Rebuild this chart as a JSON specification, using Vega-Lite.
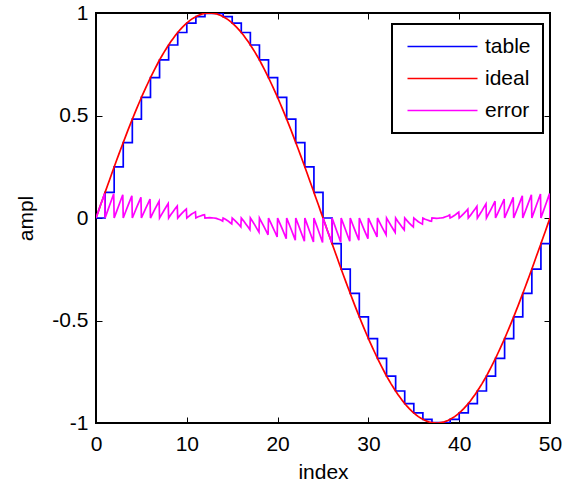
{
  "$schema": "https://vega.github.io/schema/vega-lite/v6.json",
  "width": 454,
  "height": 410,
  "autosize": "none",
  "padding": {"left": 96, "top": 13, "right": 15, "bottom": 63},
  "background": "white",
  "config": {
    "font": "Liberation Sans",
    "view": {"stroke": "black", "strokeWidth": 2},
    "axis": {
      "grid": false,
      "domain": false,
      "tickColor": "black",
      "tickWidth": 1,
      "tickSize": -6,
      "labelColor": "black",
      "labelFontSize": 21,
      "labelFont": "Liberation Sans",
      "labelFlush": false,
      "labelOverlap": false,
      "titleFont": "Liberation Sans",
      "titleFontSize": 21,
      "titleFontWeight": "normal",
      "titleColor": "black",
      "labelExpr": "datum.value + ''"
    },
    "legend": {
      "orient": "none",
      "legendX": 296,
      "legendY": 11,
      "direction": "vertical",
      "fillColor": "white",
      "strokeColor": "black",
      "strokeWidth": 2,
      "padding": 12,
      "symbolType": "M-1.4,0H12.6",
      "symbolSize": 100,
      "symbolStrokeWidth": 1.6,
      "labelFontSize": 21,
      "labelFont": "Liberation Sans",
      "labelColor": "black",
      "labelOffset": 60,
      "rowPadding": 10
    }
  },
  "datasets": {
    "tab": [
      {"x":0,"t":0},{"x":1,"t":0.125},{"x":2,"t":0.249},{"x":3,"t":0.368},{"x":4,"t":0.482},{"x":5,"t":0.588},{"x":6,"t":0.685},{"x":7,"t":0.771},{"x":8,"t":0.844},{"x":9,"t":0.905},{"x":10,"t":0.951},{"x":11,"t":0.982},{"x":12,"t":0.998},{"x":13,"t":0.998},{"x":14,"t":0.982},{"x":15,"t":0.951},{"x":16,"t":0.905},{"x":17,"t":0.844},{"x":18,"t":0.771},{"x":19,"t":0.685},{"x":20,"t":0.588},{"x":21,"t":0.482},{"x":22,"t":0.368},{"x":23,"t":0.249},{"x":24,"t":0.125},{"x":25,"t":0},{"x":26,"t":-0.125},{"x":27,"t":-0.249},{"x":28,"t":-0.368},{"x":29,"t":-0.482},{"x":30,"t":-0.588},{"x":31,"t":-0.685},{"x":32,"t":-0.771},{"x":33,"t":-0.844},{"x":34,"t":-0.905},{"x":35,"t":-0.951},{"x":36,"t":-0.982},{"x":37,"t":-0.998},{"x":38,"t":-0.998},{"x":39,"t":-0.982},{"x":40,"t":-0.951},{"x":41,"t":-0.905},{"x":42,"t":-0.844},{"x":43,"t":-0.771},{"x":44,"t":-0.685},{"x":45,"t":-0.588},{"x":46,"t":-0.482},{"x":47,"t":-0.368},{"x":48,"t":-0.249},{"x":49,"t":-0.125},{"x":50,"t":0}
    ],
    "sig": [
      {"x":0,"ideal":0,"error":0},{"x":0.25,"ideal":0.031,"error":0.031},{"x":0.5,"ideal":0.063,"error":0.063},{"x":0.75,"ideal":0.094,"error":0.094},{"x":0.95,"ideal":0.119,"error":0.119},
      {"x":1,"ideal":0.125,"error":0},{"x":1.25,"ideal":0.156,"error":0.031},{"x":1.5,"ideal":0.187,"error":0.062},{"x":1.75,"ideal":0.218,"error":0.093},{"x":1.95,"ideal":0.243,"error":0.118},
      {"x":2,"ideal":0.249,"error":0},{"x":2.25,"ideal":0.279,"error":0.030},{"x":2.5,"ideal":0.309,"error":0.060},{"x":2.75,"ideal":0.339,"error":0.090},{"x":2.95,"ideal":0.362,"error":0.113},
      {"x":3,"ideal":0.368,"error":0},{"x":3.25,"ideal":0.397,"error":0.029},{"x":3.5,"ideal":0.426,"error":0.058},{"x":3.75,"ideal":0.454,"error":0.086},{"x":3.95,"ideal":0.476,"error":0.108},
      {"x":4,"ideal":0.482,"error":0},{"x":4.25,"ideal":0.509,"error":0.027},{"x":4.5,"ideal":0.536,"error":0.054},{"x":4.75,"ideal":0.562,"error":0.080},{"x":4.95,"ideal":0.583,"error":0.101},
      {"x":5,"ideal":0.588,"error":0},{"x":5.25,"ideal":0.613,"error":0.025},{"x":5.5,"ideal":0.637,"error":0.049},{"x":5.75,"ideal":0.661,"error":0.073},{"x":5.95,"ideal":0.680,"error":0.092},
      {"x":6,"ideal":0.685,"error":0},{"x":6.25,"ideal":0.707,"error":0.022},{"x":6.5,"ideal":0.729,"error":0.044},{"x":6.75,"ideal":0.750,"error":0.065},{"x":6.95,"ideal":0.767,"error":0.082},
      {"x":7,"ideal":0.771,"error":0},{"x":7.25,"ideal":0.790,"error":0.019},{"x":7.5,"ideal":0.809,"error":0.038},{"x":7.75,"ideal":0.827,"error":0.056},{"x":7.95,"ideal":0.841,"error":0.070},
      {"x":8,"ideal":0.844,"error":0},{"x":8.25,"ideal":0.861,"error":0.017},{"x":8.5,"ideal":0.876,"error":0.032},{"x":8.75,"ideal":0.891,"error":0.047},{"x":8.95,"ideal":0.902,"error":0.058},
      {"x":9,"ideal":0.905,"error":0},{"x":9.25,"ideal":0.918,"error":0.013},{"x":9.5,"ideal":0.930,"error":0.025},{"x":9.75,"ideal":0.941,"error":0.036},{"x":9.95,"ideal":0.949,"error":0.044},
      {"x":10,"ideal":0.951,"error":0},{"x":10.25,"ideal":0.960,"error":0.009},{"x":10.5,"ideal":0.969,"error":0.018},{"x":10.75,"ideal":0.976,"error":0.025},{"x":10.95,"ideal":0.981,"error":0.030},
      {"x":11,"ideal":0.982,"error":0},{"x":11.25,"ideal":0.988,"error":0.006},{"x":11.5,"ideal":0.992,"error":0.010},{"x":11.75,"ideal":0.996,"error":0.014},{"x":11.95,"ideal":0.998,"error":0.016},
      {"x":12,"ideal":0.998,"error":0},{"x":12.25,"ideal":0.999,"error":0.001},{"x":12.5,"ideal":1,"error":0.002},{"x":12.75,"ideal":0.999,"error":0.001},{"x":12.95,"ideal":0.998,"error":0},
      {"x":13,"ideal":0.998,"error":0},{"x":13.25,"ideal":0.996,"error":-0.002},{"x":13.5,"ideal":0.992,"error":-0.006},{"x":13.75,"ideal":0.988,"error":-0.010},{"x":13.95,"ideal":0.983,"error":-0.015},
      {"x":14,"ideal":0.982,"error":0},{"x":14.25,"ideal":0.976,"error":-0.006},{"x":14.5,"ideal":0.969,"error":-0.013},{"x":14.75,"ideal":0.960,"error":-0.022},{"x":14.95,"ideal":0.953,"error":-0.029},
      {"x":15,"ideal":0.951,"error":0},{"x":15.25,"ideal":0.941,"error":-0.010},{"x":15.5,"ideal":0.930,"error":-0.021},{"x":15.75,"ideal":0.918,"error":-0.033},{"x":15.95,"ideal":0.908,"error":-0.043},
      {"x":16,"ideal":0.905,"error":0},{"x":16.25,"ideal":0.891,"error":-0.014},{"x":16.5,"ideal":0.876,"error":-0.029},{"x":16.75,"ideal":0.861,"error":-0.044},{"x":16.95,"ideal":0.848,"error":-0.057},
      {"x":17,"ideal":0.844,"error":0},{"x":17.25,"ideal":0.827,"error":-0.017},{"x":17.5,"ideal":0.809,"error":-0.035},{"x":17.75,"ideal":0.790,"error":-0.054},{"x":17.95,"ideal":0.775,"error":-0.069},
      {"x":18,"ideal":0.771,"error":0},{"x":18.25,"ideal":0.750,"error":-0.021},{"x":18.5,"ideal":0.729,"error":-0.042},{"x":18.75,"ideal":0.707,"error":-0.064},{"x":18.95,"ideal":0.689,"error":-0.082},
      {"x":19,"ideal":0.685,"error":0},{"x":19.25,"ideal":0.661,"error":-0.024},{"x":19.5,"ideal":0.637,"error":-0.048},{"x":19.75,"ideal":0.613,"error":-0.072},{"x":19.95,"ideal":0.593,"error":-0.092},
      {"x":20,"ideal":0.588,"error":0},{"x":20.25,"ideal":0.562,"error":-0.026},{"x":20.5,"ideal":0.536,"error":-0.052},{"x":20.75,"ideal":0.509,"error":-0.079},{"x":20.95,"ideal":0.487,"error":-0.101},
      {"x":21,"ideal":0.482,"error":0},{"x":21.25,"ideal":0.454,"error":-0.028},{"x":21.5,"ideal":0.426,"error":-0.056},{"x":21.75,"ideal":0.397,"error":-0.085},{"x":21.95,"ideal":0.374,"error":-0.108},
      {"x":22,"ideal":0.368,"error":0},{"x":22.25,"ideal":0.339,"error":-0.029},{"x":22.5,"ideal":0.309,"error":-0.059},{"x":22.75,"ideal":0.279,"error":-0.089},{"x":22.95,"ideal":0.255,"error":-0.113},
      {"x":23,"ideal":0.249,"error":0},{"x":23.25,"ideal":0.218,"error":-0.031},{"x":23.5,"ideal":0.187,"error":-0.062},{"x":23.75,"ideal":0.156,"error":-0.093},{"x":23.95,"ideal":0.132,"error":-0.117},
      {"x":24,"ideal":0.125,"error":0},{"x":24.25,"ideal":0.094,"error":-0.031},{"x":24.5,"ideal":0.063,"error":-0.062},{"x":24.75,"ideal":0.031,"error":-0.094},{"x":24.95,"ideal":0.006,"error":-0.119},
      {"x":25,"ideal":0,"error":0},{"x":25.25,"ideal":-0.031,"error":-0.031},{"x":25.5,"ideal":-0.063,"error":-0.063},{"x":25.75,"ideal":-0.094,"error":-0.094},{"x":25.95,"ideal":-0.119,"error":-0.119},
      {"x":26,"ideal":-0.125,"error":0},{"x":26.25,"ideal":-0.156,"error":-0.031},{"x":26.5,"ideal":-0.187,"error":-0.062},{"x":26.75,"ideal":-0.218,"error":-0.093},{"x":26.95,"ideal":-0.243,"error":-0.118},
      {"x":27,"ideal":-0.249,"error":0},{"x":27.25,"ideal":-0.279,"error":-0.030},{"x":27.5,"ideal":-0.309,"error":-0.060},{"x":27.75,"ideal":-0.339,"error":-0.090},{"x":27.95,"ideal":-0.362,"error":-0.113},
      {"x":28,"ideal":-0.368,"error":0},{"x":28.25,"ideal":-0.397,"error":-0.029},{"x":28.5,"ideal":-0.426,"error":-0.058},{"x":28.75,"ideal":-0.454,"error":-0.086},{"x":28.95,"ideal":-0.476,"error":-0.108},
      {"x":29,"ideal":-0.482,"error":0},{"x":29.25,"ideal":-0.509,"error":-0.027},{"x":29.5,"ideal":-0.536,"error":-0.054},{"x":29.75,"ideal":-0.562,"error":-0.080},{"x":29.95,"ideal":-0.583,"error":-0.101},
      {"x":30,"ideal":-0.588,"error":0},{"x":30.25,"ideal":-0.613,"error":-0.025},{"x":30.5,"ideal":-0.637,"error":-0.049},{"x":30.75,"ideal":-0.661,"error":-0.073},{"x":30.95,"ideal":-0.680,"error":-0.092},
      {"x":31,"ideal":-0.685,"error":0},{"x":31.25,"ideal":-0.707,"error":-0.022},{"x":31.5,"ideal":-0.729,"error":-0.044},{"x":31.75,"ideal":-0.750,"error":-0.065},{"x":31.95,"ideal":-0.767,"error":-0.082},
      {"x":32,"ideal":-0.771,"error":0},{"x":32.25,"ideal":-0.790,"error":-0.019},{"x":32.5,"ideal":-0.809,"error":-0.038},{"x":32.75,"ideal":-0.827,"error":-0.056},{"x":32.95,"ideal":-0.841,"error":-0.070},
      {"x":33,"ideal":-0.844,"error":0},{"x":33.25,"ideal":-0.861,"error":-0.017},{"x":33.5,"ideal":-0.876,"error":-0.032},{"x":33.75,"ideal":-0.891,"error":-0.047},{"x":33.95,"ideal":-0.902,"error":-0.058},
      {"x":34,"ideal":-0.905,"error":0},{"x":34.25,"ideal":-0.918,"error":-0.013},{"x":34.5,"ideal":-0.930,"error":-0.025},{"x":34.75,"ideal":-0.941,"error":-0.036},{"x":34.95,"ideal":-0.949,"error":-0.044},
      {"x":35,"ideal":-0.951,"error":0},{"x":35.25,"ideal":-0.960,"error":-0.009},{"x":35.5,"ideal":-0.969,"error":-0.018},{"x":35.75,"ideal":-0.976,"error":-0.025},{"x":35.95,"ideal":-0.981,"error":-0.030},
      {"x":36,"ideal":-0.982,"error":0},{"x":36.25,"ideal":-0.988,"error":-0.006},{"x":36.5,"ideal":-0.992,"error":-0.010},{"x":36.75,"ideal":-0.996,"error":-0.014},{"x":36.95,"ideal":-0.998,"error":-0.016},
      {"x":37,"ideal":-0.998,"error":0},{"x":37.25,"ideal":-0.999,"error":-0.001},{"x":37.5,"ideal":-1,"error":-0.002},{"x":37.75,"ideal":-0.999,"error":-0.001},{"x":37.95,"ideal":-0.998,"error":0},
      {"x":38,"ideal":-0.998,"error":0},{"x":38.25,"ideal":-0.996,"error":0.002},{"x":38.5,"ideal":-0.992,"error":0.006},{"x":38.75,"ideal":-0.988,"error":0.010},{"x":38.95,"ideal":-0.983,"error":0.015},
      {"x":39,"ideal":-0.982,"error":0},{"x":39.25,"ideal":-0.976,"error":0.006},{"x":39.5,"ideal":-0.969,"error":0.013},{"x":39.75,"ideal":-0.960,"error":0.022},{"x":39.95,"ideal":-0.953,"error":0.029},
      {"x":40,"ideal":-0.951,"error":0},{"x":40.25,"ideal":-0.941,"error":0.010},{"x":40.5,"ideal":-0.930,"error":0.021},{"x":40.75,"ideal":-0.918,"error":0.033},{"x":40.95,"ideal":-0.908,"error":0.043},
      {"x":41,"ideal":-0.905,"error":0},{"x":41.25,"ideal":-0.891,"error":0.014},{"x":41.5,"ideal":-0.876,"error":0.029},{"x":41.75,"ideal":-0.861,"error":0.044},{"x":41.95,"ideal":-0.848,"error":0.057},
      {"x":42,"ideal":-0.844,"error":0},{"x":42.25,"ideal":-0.827,"error":0.017},{"x":42.5,"ideal":-0.809,"error":0.035},{"x":42.75,"ideal":-0.790,"error":0.054},{"x":42.95,"ideal":-0.775,"error":0.069},
      {"x":43,"ideal":-0.771,"error":0},{"x":43.25,"ideal":-0.750,"error":0.021},{"x":43.5,"ideal":-0.729,"error":0.042},{"x":43.75,"ideal":-0.707,"error":0.064},{"x":43.95,"ideal":-0.689,"error":0.082},
      {"x":44,"ideal":-0.685,"error":0},{"x":44.25,"ideal":-0.661,"error":0.024},{"x":44.5,"ideal":-0.637,"error":0.048},{"x":44.75,"ideal":-0.613,"error":0.072},{"x":44.95,"ideal":-0.593,"error":0.092},
      {"x":45,"ideal":-0.588,"error":0},{"x":45.25,"ideal":-0.562,"error":0.026},{"x":45.5,"ideal":-0.536,"error":0.052},{"x":45.75,"ideal":-0.509,"error":0.079},{"x":45.95,"ideal":-0.487,"error":0.101},
      {"x":46,"ideal":-0.482,"error":0},{"x":46.25,"ideal":-0.454,"error":0.028},{"x":46.5,"ideal":-0.426,"error":0.056},{"x":46.75,"ideal":-0.397,"error":0.085},{"x":46.95,"ideal":-0.374,"error":0.108},
      {"x":47,"ideal":-0.368,"error":0},{"x":47.25,"ideal":-0.339,"error":0.029},{"x":47.5,"ideal":-0.309,"error":0.059},{"x":47.75,"ideal":-0.279,"error":0.089},{"x":47.95,"ideal":-0.255,"error":0.113},
      {"x":48,"ideal":-0.249,"error":0},{"x":48.25,"ideal":-0.218,"error":0.031},{"x":48.5,"ideal":-0.187,"error":0.062},{"x":48.75,"ideal":-0.156,"error":0.093},{"x":48.95,"ideal":-0.132,"error":0.117},
      {"x":49,"ideal":-0.125,"error":0},{"x":49.25,"ideal":-0.094,"error":0.031},{"x":49.5,"ideal":-0.063,"error":0.062},{"x":49.75,"ideal":-0.031,"error":0.094},{"x":49.95,"ideal":-0.006,"error":0.119},
      {"x":50,"ideal":0,"error":0}
    ]
  },
  "layer": [
    {
      "data": {"name": "tab"},
      "mark": {"type": "line", "interpolate": "step-after", "strokeWidth": 1.7, "clip": true},
      "encoding": {
        "x": {"field": "x", "type": "quantitative", "scale": {"domain": [0, 50], "nice": false, "zero": false},
              "axis": {"orient": "bottom", "values": [0, 10, 20, 30, 40, 50], "title": "index", "labelPadding": 16, "titlePadding": 7}},
        "y": {"field": "t", "type": "quantitative", "scale": {"domain": [-1, 1], "nice": false, "zero": false},
              "axis": {"orient": "left", "values": [-1, -0.5, 0, 0.5, 1], "title": "ampl", "labelPadding": 14, "titlePadding": 15}},
        "color": {"datum": "table", "type": "nominal",
                  "scale": {"domain": ["table", "ideal", "error"], "range": ["#0000ff", "#ff0000", "#ff00ff"]},
                  "legend": {"title": null}}
      }
    },
    {
      "data": {"name": "sig"},
      "transform": [{"fold": ["ideal", "error"], "as": ["key", "value"]}],
      "mark": {"type": "line", "strokeWidth": 1.7, "clip": true},
      "encoding": {
        "x": {"field": "x", "type": "quantitative",
              "axis": {"orient": "top", "values": [0, 10, 20, 30, 40, 50], "labels": false, "title": null}},
        "y": {"field": "value", "type": "quantitative",
              "axis": {"orient": "right", "values": [-1, -0.5, 0, 0.5, 1], "labels": false, "title": null}},
        "color": {"field": "key", "type": "nominal", "legend": {"title": null}}
      }
    }
  ],
  "resolve": {"axis": {"x": "independent", "y": "independent"}}
}
